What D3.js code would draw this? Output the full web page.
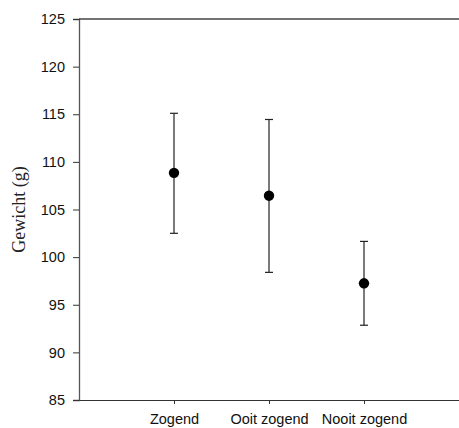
<!DOCTYPE html>
<html>
<head>
<meta charset="utf-8">
<script src="https://cdn.jsdelivr.net/npm/d3@7"></script>
<style>
  html, body { margin: 0; padding: 0; background: #fff; }
  svg { display: block; }
</style>
</head>
<body>
<svg id="chart" width="459" height="428"></svg>
<script>
// Mean body weight (g) with error range per group
const categories = ["Zogend", "Ooit zogend", "Nooit zogend"];
const means = [108.85, 106.45, 97.25];
const upper = [115.1, 114.45, 101.65];
const lower = [102.5, 98.4, 92.85];
const yTicks = [85, 90, 95, 100, 105, 110, 115, 120, 125];

const svg = d3.select("#chart");
const margin = { left: 79, right: 0, top: 19, bottom: 28 };
const W = 459, H = 428;

const x = d3.scaleLinear()
  .domain([0, categories.length + 1])
  .range([margin.left, W - margin.right]);
const y = d3.scaleLinear()
  .domain([85, 125])
  .range([H - margin.bottom, margin.top]);

const axisFont = "'Liberation Sans', Arial, sans-serif";

// Left axis
const yAxis = svg.append("g")
  .attr("transform", `translate(${margin.left},0)`)
  .call(d3.axisLeft(y).tickValues(yTicks).tickSize(6).tickPadding(8));
yAxis.select(".domain").attr("stroke", "#555").attr("stroke-width", 1.3);
yAxis.selectAll(".tick line").attr("stroke", "#333");
yAxis.selectAll("text")
  .attr("font-family", axisFont).attr("font-size", 14.5).attr("fill", "#111");

// Bottom axis
const xAxis = svg.append("g")
  .attr("transform", `translate(0,${y(85)})`)
  .call(d3.axisBottom(x)
    .tickValues(categories.map((_, i) => i + 1))
    .tickFormat(i => categories[i - 1])
    .tickSizeInner(4).tickSizeOuter(0).tickPadding(10));
xAxis.select(".domain").attr("stroke", "#333").attr("stroke-width", 1.2);
xAxis.selectAll(".tick line").attr("stroke", "#333");
xAxis.selectAll("text")
  .attr("font-family", axisFont).attr("font-size", 14.5).attr("fill", "#111");

// Top frame line
svg.append("line")
  .attr("x1", margin.left).attr("x2", W - margin.right)
  .attr("y1", y(125)).attr("y2", y(125))
  .attr("stroke", "#444").attr("stroke-width", 1.3);

// Y axis title
svg.append("text")
  .attr("transform", `translate(25,${(y(85) + y(125)) / 2}) rotate(-90)`)
  .attr("text-anchor", "middle")
  .attr("font-family", "'Liberation Serif', 'Times New Roman', serif")
  .attr("font-size", 18)
  .attr("fill", "#222")
  .text("Gewicht (g)");

// Error bars and means
const groups = svg.append("g").selectAll("g")
  .data(categories.map((c, i) => ({ c, i, m: means[i], hi: upper[i], lo: lower[i] })))
  .join("g");

groups.append("line")
  .attr("x1", d => x(d.i + 1)).attr("x2", d => x(d.i + 1))
  .attr("y1", d => y(d.hi)).attr("y2", d => y(d.lo))
  .attr("stroke", "#222").attr("stroke-width", 1.2);
groups.append("line")
  .attr("x1", d => x(d.i + 1) - 4).attr("x2", d => x(d.i + 1) + 4)
  .attr("y1", d => y(d.hi)).attr("y2", d => y(d.hi))
  .attr("stroke", "#222").attr("stroke-width", 1.2);
groups.append("line")
  .attr("x1", d => x(d.i + 1) - 4).attr("x2", d => x(d.i + 1) + 4)
  .attr("y1", d => y(d.lo)).attr("y2", d => y(d.lo))
  .attr("stroke", "#222").attr("stroke-width", 1.2);
groups.append("circle")
  .attr("cx", d => x(d.i + 1)).attr("cy", d => y(d.m))
  .attr("r", 5.2).attr("fill", "#000");
</script>
</body>
</html>
